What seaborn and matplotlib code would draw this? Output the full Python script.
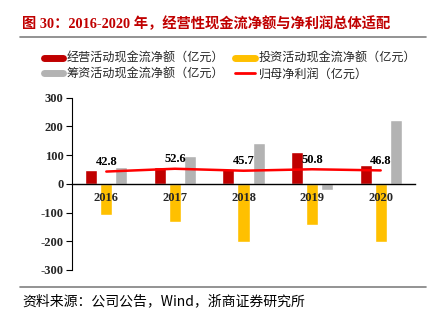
import numpy as np
import pandas as pd
import matplotlib
matplotlib.use("Agg")
import matplotlib.pyplot as plt
import seaborn as sns
from matplotlib.lines import Line2D

years = ["2016", "2017", "2018", "2019", "2020"]
operating_cf = [47, 57, 50, 111, 66]
investing_cf = [-109, -133, -203, -145, -201]
financing_cf = [57, 96, 142, -20, 221]
net_profit = [42.8, 52.6, 45.7, 50.8, 46.8]
series_names = ["经营活动现金流净额（亿元）", "投资活动现金流净额（亿元）",
                "筹资活动现金流净额（亿元）", "归母净利润（亿元）"]
y_ticks = [-300, -200, -100, 0, 100, 200, 300]

colors = {series_names[0]: "#C00000", series_names[1]: "#FFC000", series_names[2]: "#B3B3B3"}
line_color = "#FF0000"

df = pd.DataFrame({
    "year": years * 3,
    "series": [series_names[0]] * 5 + [series_names[1]] * 5 + [series_names[2]] * 5,
    "value": operating_cf + investing_cf + financing_cf,
})

sns.set_theme(style="white")
plt.rcParams['font.family'] = ['Liberation Serif', 'Noto Sans CJK SC', 'DejaVu Sans']

fig = plt.figure(figsize=(4.37, 3.31), dpi=100)
ax = fig.add_axes([72 / 437, 1 - 270 / 331, (415 - 72) / 437, (270 - 97.7) / 331])

sns.barplot(data=df, x="year", y="value", hue="series", palette=colors,
            width=0.66, gap=0.2, ax=ax, legend=False, saturation=1)

xpos = np.arange(len(years))
ax.plot(xpos, net_profit, color=line_color, lw=1.8, zorder=5)
for x, v in zip(xpos, net_profit):
    ax.text(x, v + 12, f"{v:.1f}", ha="center", va="bottom", fontsize=9,
            fontweight="bold", family="Liberation Serif", color="black", zorder=6)

for s in ["top", "right"]:
    ax.spines[s].set_visible(False)
ax.spines["bottom"].set_position(("data", 0))
ax.spines["bottom"].set_color("black")
ax.spines["left"].set_color("black")
ax.spines["bottom"].set_linewidth(1.0)
ax.spines["left"].set_linewidth(0.8)

ax.set_ylim(-300, 300)
ax.set_xlim(-0.5, len(years) - 0.5)
ax.set_yticks(y_ticks)
ax.set_yticklabels([str(t) for t in y_ticks])
ax.set_xticks(xpos)
ax.set_xticklabels(years)
ax.set_xticks(np.arange(len(years) + 1) - 0.5, minor=True)
ax.set_xlabel("")
ax.set_ylabel("")
ax.set_axisbelow(False)
ax.tick_params(axis="x", which="major", length=0, pad=6)
ax.tick_params(axis="x", which="minor", length=4, direction="out", color="black", width=0.8)
ax.tick_params(axis="y", length=4, direction="out", color="black", width=0.8, left=True, pad=2)
for lbl in ax.get_xticklabels() + ax.get_yticklabels():
    lbl.set_fontweight("bold")
    lbl.set_fontsize(9)
    lbl.set_family("Liberation Serif")
    lbl.set_zorder(10)
ax.set_facecolor("white")

# Title
fig.text(22 / 437, 1 - 24 / 331, "图 30：2016-2020 年，经营性现金流净额与净利润总体适配",
         fontsize=10.3, fontweight="bold", color="#C00000", va="center", ha="left",
         family=['Liberation Serif', 'Noto Sans CJK SC'])
fig.add_artist(Line2D([20 / 437, 426 / 437], [1 - 37 / 331, 1 - 37 / 331],
                      color="#808080", lw=1.2, transform=fig.transFigure))
fig.add_artist(Line2D([20 / 437, 426 / 437], [1 - 287 / 331, 1 - 287 / 331],
                      color="#808080", lw=1.2, transform=fig.transFigure))
fig.text(22 / 437, 1 - 301 / 331, "资料来源：公司公告，Wind，浙商证券研究所",
         fontsize=10, color="black", va="center", ha="left",
         family=['Noto Sans CJK SC', 'Liberation Serif'])

handles = [
    Line2D([0], [0], color=colors[series_names[0]], lw=5),
    Line2D([0], [0], color=colors[series_names[2]], lw=5),
    Line2D([0], [0], color=colors[series_names[1]], lw=5),
    Line2D([0], [0], color=line_color, lw=2),
]
labels = [series_names[0], series_names[2], series_names[1], series_names[3]]
fig.legend(handles, labels, ncol=2, loc="upper left",
           bbox_to_anchor=(44 / 437, 1 - 52 / 331), frameon=False,
           prop={"family": "Noto Sans CJK SC", "size": 8.7},
           handlelength=1.6, handletextpad=0.3, columnspacing=0.9,
           labelspacing=0.2, borderpad=0, borderaxespad=0)

fig.savefig("out.png", dpi=100, facecolor="white")
